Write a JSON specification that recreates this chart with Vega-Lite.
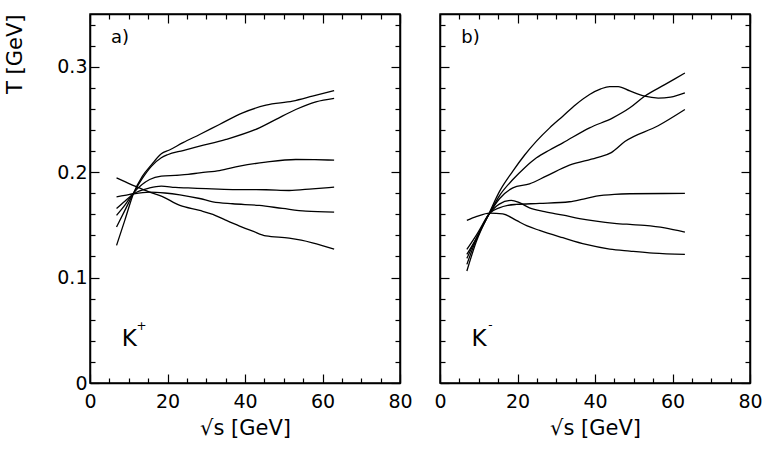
{
  "$schema": "https://vega.github.io/schema/vega-lite/v6.json",
  "padding": {"left": 4, "top": 12, "right": 0, "bottom": 0},
  "background": "white",
  "config": {
    "font": "DejaVu Sans",
    "view": {"stroke": "black", "strokeWidth": 1.5},
    "axis": {
      "grid": false,
      "domainColor": "black",
      "domainWidth": 1.5,
      "tickColor": "black",
      "tickWidth": 1.2,
      "labelColor": "black",
      "titleColor": "black",
      "labelFont": "DejaVu Sans",
      "titleFont": "DejaVu Sans",
      "labelFontSize": 19,
      "titleFontSize": 21,
      "titleFontWeight": "normal",
      "labelFlush": false,
      "labelOverlap": false
    }
  },
  "datasets": {
    "kplus": [
      {"curve": "c1", "x": 6.85, "y": 0.1946}, {"curve": "c1", "x": 9, "y": 0.191}, {"curve": "c1", "x": 11.6, "y": 0.1867}, {"curve": "c1", "x": 15.4, "y": 0.181}, {"curve": "c1", "x": 18.4, "y": 0.1773}, {"curve": "c1", "x": 23.2, "y": 0.1684}, {"curve": "c1", "x": 28.3, "y": 0.1637}, {"curve": "c1", "x": 31.7, "y": 0.16}, {"curve": "c1", "x": 35, "y": 0.1545}, {"curve": "c1", "x": 38.6, "y": 0.1488}, {"curve": "c1", "x": 42, "y": 0.144}, {"curve": "c1", "x": 45.4, "y": 0.1395}, {"curve": "c1", "x": 51.4, "y": 0.1375}, {"curve": "c1", "x": 54.5, "y": 0.1355}, {"curve": "c1", "x": 57.4, "y": 0.133}, {"curve": "c1", "x": 63, "y": 0.127},
      {"curve": "c2", "x": 6.85, "y": 0.1766}, {"curve": "c2", "x": 9, "y": 0.1779}, {"curve": "c2", "x": 11.3, "y": 0.1795}, {"curve": "c2", "x": 15.4, "y": 0.181}, {"curve": "c2", "x": 19.3, "y": 0.1802}, {"curve": "c2", "x": 23.2, "y": 0.1785}, {"curve": "c2", "x": 28.3, "y": 0.175}, {"curve": "c2", "x": 31.7, "y": 0.1719}, {"curve": "c2", "x": 36.8, "y": 0.17}, {"curve": "c2", "x": 43.7, "y": 0.1684}, {"curve": "c2", "x": 49.7, "y": 0.1656}, {"curve": "c2", "x": 55.7, "y": 0.163}, {"curve": "c2", "x": 63, "y": 0.162},
      {"curve": "c3", "x": 6.85, "y": 0.1656}, {"curve": "c3", "x": 9, "y": 0.1725}, {"curve": "c3", "x": 11.3, "y": 0.1795}, {"curve": "c3", "x": 15.4, "y": 0.185}, {"curve": "c3", "x": 18.4, "y": 0.1867}, {"curve": "c3", "x": 22, "y": 0.1855}, {"curve": "c3", "x": 25.3, "y": 0.185}, {"curve": "c3", "x": 30, "y": 0.1843}, {"curve": "c3", "x": 36.8, "y": 0.1835}, {"curve": "c3", "x": 45.4, "y": 0.1833}, {"curve": "c3", "x": 51.4, "y": 0.1826}, {"curve": "c3", "x": 57.4, "y": 0.1842}, {"curve": "c3", "x": 63, "y": 0.1858},
      {"curve": "c4", "x": 6.85, "y": 0.159}, {"curve": "c4", "x": 9, "y": 0.1687}, {"curve": "c4", "x": 11.3, "y": 0.1805}, {"curve": "c4", "x": 15.4, "y": 0.193}, {"curve": "c4", "x": 18.4, "y": 0.1962}, {"curve": "c4", "x": 22, "y": 0.197}, {"curve": "c4", "x": 25.3, "y": 0.1978}, {"curve": "c4", "x": 28.3, "y": 0.1994}, {"curve": "c4", "x": 33.4, "y": 0.2015}, {"curve": "c4", "x": 38.6, "y": 0.2057}, {"curve": "c4", "x": 45.4, "y": 0.2095}, {"curve": "c4", "x": 53.1, "y": 0.212}, {"curve": "c4", "x": 58, "y": 0.2118}, {"curve": "c4", "x": 63, "y": 0.2114},
      {"curve": "c5", "x": 6.85, "y": 0.148}, {"curve": "c5", "x": 9, "y": 0.1637}, {"curve": "c5", "x": 11.3, "y": 0.1805}, {"curve": "c5", "x": 13.5, "y": 0.194}, {"curve": "c5", "x": 15.9, "y": 0.2057}, {"curve": "c5", "x": 18.4, "y": 0.2136}, {"curve": "c5", "x": 20, "y": 0.2165}, {"curve": "c5", "x": 24, "y": 0.2205}, {"curve": "c5", "x": 28.3, "y": 0.2246}, {"curve": "c5", "x": 35.1, "y": 0.231}, {"curve": "c5", "x": 43.7, "y": 0.242}, {"curve": "c5", "x": 48, "y": 0.25}, {"curve": "c5", "x": 53.1, "y": 0.2594}, {"curve": "c5", "x": 58.3, "y": 0.2667}, {"curve": "c5", "x": 63, "y": 0.27},
      {"curve": "c6", "x": 6.85, "y": 0.1305}, {"curve": "c6", "x": 9, "y": 0.1545}, {"curve": "c6", "x": 11.3, "y": 0.1805}, {"curve": "c6", "x": 13.5, "y": 0.196}, {"curve": "c6", "x": 15.9, "y": 0.2072}, {"curve": "c6", "x": 18.4, "y": 0.2174}, {"curve": "c6", "x": 20.5, "y": 0.221}, {"curve": "c6", "x": 24, "y": 0.228}, {"curve": "c6", "x": 28.3, "y": 0.2357}, {"curve": "c6", "x": 33.4, "y": 0.2452}, {"curve": "c6", "x": 39.4, "y": 0.2562}, {"curve": "c6", "x": 45.4, "y": 0.2635}, {"curve": "c6", "x": 52.3, "y": 0.2673}, {"curve": "c6", "x": 57.4, "y": 0.272}, {"curve": "c6", "x": 63, "y": 0.2774}
    ],
    "kminus": [
      {"curve": "P", "x": 6.93, "y": 0.1062}, {"curve": "P", "x": 9.35, "y": 0.134}, {"curve": "P", "x": 12.8, "y": 0.162}, {"curve": "P", "x": 15.4, "y": 0.182}, {"curve": "P", "x": 18.8, "y": 0.201}, {"curve": "P", "x": 21.8, "y": 0.216}, {"curve": "P", "x": 24.9, "y": 0.2294}, {"curve": "P", "x": 28.3, "y": 0.242}, {"curve": "P", "x": 31.7, "y": 0.2531}, {"curve": "P", "x": 35, "y": 0.264}, {"curve": "P", "x": 38.6, "y": 0.2737}, {"curve": "P", "x": 41.5, "y": 0.279}, {"curve": "P", "x": 43.8, "y": 0.2812}, {"curve": "P", "x": 46, "y": 0.2812}, {"curve": "P", "x": 49, "y": 0.277}, {"curve": "P", "x": 52.8, "y": 0.272}, {"curve": "P", "x": 56.3, "y": 0.2703}, {"curve": "P", "x": 59.5, "y": 0.2712}, {"curve": "P", "x": 63.2, "y": 0.2752},
      {"curve": "Q", "x": 6.93, "y": 0.1125}, {"curve": "Q", "x": 9.35, "y": 0.136}, {"curve": "Q", "x": 12.8, "y": 0.161}, {"curve": "Q", "x": 15.4, "y": 0.178}, {"curve": "Q", "x": 18.8, "y": 0.193}, {"curve": "Q", "x": 21.8, "y": 0.204}, {"curve": "Q", "x": 24.9, "y": 0.2136}, {"curve": "Q", "x": 28.3, "y": 0.221}, {"curve": "Q", "x": 31.7, "y": 0.2278}, {"curve": "Q", "x": 38.6, "y": 0.242}, {"curve": "Q", "x": 44.6, "y": 0.2515}, {"curve": "Q", "x": 49, "y": 0.261}, {"curve": "Q", "x": 52.8, "y": 0.272}, {"curve": "Q", "x": 58, "y": 0.283}, {"curve": "Q", "x": 63.2, "y": 0.294},
      {"curve": "R", "x": 6.93, "y": 0.1182}, {"curve": "R", "x": 9.35, "y": 0.137}, {"curve": "R", "x": 12.8, "y": 0.161}, {"curve": "R", "x": 15.4, "y": 0.175}, {"curve": "R", "x": 18.8, "y": 0.1851}, {"curve": "R", "x": 23.1, "y": 0.1889}, {"curve": "R", "x": 27.4, "y": 0.1962}, {"curve": "R", "x": 33.4, "y": 0.2066}, {"curve": "R", "x": 40.3, "y": 0.2136}, {"curve": "R", "x": 44.2, "y": 0.2185}, {"curve": "R", "x": 47.7, "y": 0.229}, {"curve": "R", "x": 56.3, "y": 0.244}, {"curve": "R", "x": 63.2, "y": 0.2594},
      {"curve": "S", "x": 6.93, "y": 0.122}, {"curve": "S", "x": 9.35, "y": 0.137}, {"curve": "S", "x": 12.8, "y": 0.161}, {"curve": "S", "x": 15.3, "y": 0.1662}, {"curve": "S", "x": 17.5, "y": 0.1685}, {"curve": "S", "x": 19.7, "y": 0.1694}, {"curve": "S", "x": 25.7, "y": 0.1703}, {"curve": "S", "x": 33.4, "y": 0.1719}, {"curve": "S", "x": 37, "y": 0.1745}, {"curve": "S", "x": 40.3, "y": 0.1772}, {"curve": "S", "x": 45, "y": 0.179}, {"curve": "S", "x": 49, "y": 0.1795}, {"curve": "S", "x": 63.2, "y": 0.1798},
      {"curve": "T", "x": 6.93, "y": 0.1267}, {"curve": "T", "x": 9.35, "y": 0.14}, {"curve": "T", "x": 12.8, "y": 0.161}, {"curve": "T", "x": 15.3, "y": 0.1697}, {"curve": "T", "x": 18.4, "y": 0.1732}, {"curve": "T", "x": 20.5, "y": 0.171}, {"curve": "T", "x": 23.1, "y": 0.1662}, {"curve": "T", "x": 27, "y": 0.1625}, {"curve": "T", "x": 31.8, "y": 0.1592}, {"curve": "T", "x": 36, "y": 0.156}, {"curve": "T", "x": 40.3, "y": 0.1535}, {"curve": "T", "x": 45, "y": 0.1515}, {"curve": "T", "x": 49, "y": 0.1504}, {"curve": "T", "x": 52.8, "y": 0.1495}, {"curve": "T", "x": 58, "y": 0.1472}, {"curve": "T", "x": 63.2, "y": 0.1431},
      {"curve": "U", "x": 6.93, "y": 0.1542}, {"curve": "U", "x": 9.5, "y": 0.158}, {"curve": "U", "x": 12.8, "y": 0.1612}, {"curve": "U", "x": 16.2, "y": 0.1605}, {"curve": "U", "x": 19.7, "y": 0.1542}, {"curve": "U", "x": 22.5, "y": 0.149}, {"curve": "U", "x": 25.7, "y": 0.1447}, {"curve": "U", "x": 31.7, "y": 0.1378}, {"curve": "U", "x": 37.7, "y": 0.1314}, {"curve": "U", "x": 43.8, "y": 0.127}, {"curve": "U", "x": 49, "y": 0.1251}, {"curve": "U", "x": 55, "y": 0.1232}, {"curve": "U", "x": 63.2, "y": 0.122}
    ],
    "tagA": [{"x": 5.4, "y": 0.327, "t": "a)"}],
    "tagB": [{"x": 5.5, "y": 0.327, "t": "b)"}],
    "kA": [{"x": 8.2, "y": 0.035, "t": "K"}],
    "kB": [{"x": 8.1, "y": 0.035, "t": "K"}],
    "supA": [{"x": 13.3, "y": 0.054, "t": "+"}],
    "supB": [{"x": 13.0, "y": 0.055, "t": "-"}]
  },
  "spacing": 20,
  "hconcat": [
    {
      "width": 310,
      "height": 369,
      "layer": [
        {
          "data": {"name": "kplus"},
          "mark": {"type": "line", "color": "black", "strokeWidth": 1.3, "interpolate": "monotone"},
          "encoding": {
            "x": {"field": "x", "type": "quantitative", "scale": {"domain": [0, 80], "nice": false},
              "axis": {"orient": "bottom", "title": "√s [GeV]", "values": [0,5,10,15,20,25,30,35,40,45,50,55,60,65,70,75,80],
                "labelExpr": "datum.value % 20 === 0 ? datum.label : ''",
                "tickSize": {"condition": {"test": "datum.value % 20 === 0", "value": -9}, "value": -5},
                "labelPadding": 18, "titlePadding": 2}},
            "y": {"field": "y", "type": "quantitative", "scale": {"domain": [0, 0.35], "nice": false, "zero": false},
              "axis": {"orient": "left", "title": "T [GeV]", "titleAnchor": "end",
                "values": [0,0.02,0.04,0.06,0.08,0.1,0.12,0.14,0.16,0.18,0.2,0.22,0.24,0.26,0.28,0.3,0.32,0.34],
                "labelExpr": "abs(datum.value*10 - round(datum.value*10)) < 0.001 ? (datum.value < 0.001 ? '0' : format(datum.value, '.1f')) : ''",
                "tickSize": {"condition": {"test": "abs(datum.value*10 - round(datum.value*10)) < 0.001", "value": -9}, "value": -5},
                "labelPadding": 12, "titlePadding": 31}},
            "detail": {"field": "curve"}
          }
        },
        {
          "data": {"name": "kplus"},
          "mark": {"type": "line", "opacity": 0},
          "encoding": {
            "x": {"field": "x", "type": "quantitative",
              "axis": {"orient": "top", "title": null, "labels": false, "values": [0,5,10,15,20,25,30,35,40,45,50,55,60,65,70,75,80],
                "tickSize": {"condition": {"test": "datum.value % 20 === 0", "value": -9}, "value": -5}}},
            "y": {"field": "y", "type": "quantitative",
              "axis": {"orient": "right", "title": null, "labels": false,
                "values": [0,0.02,0.04,0.06,0.08,0.1,0.12,0.14,0.16,0.18,0.2,0.22,0.24,0.26,0.28,0.3,0.32,0.34],
                "tickSize": {"condition": {"test": "abs(datum.value*10 - round(datum.value*10)) < 0.001", "value": -9}, "value": -5}}},
            "detail": {"field": "curve"}
          }
        },
        {
          "data": {"name": "tagA"},
          "mark": {"type": "text", "align": "left", "baseline": "middle", "fontSize": 18, "color": "black"},
          "encoding": {"x": {"field": "x", "type": "quantitative", "axis": null}, "y": {"field": "y", "type": "quantitative", "axis": null}, "text": {"field": "t"}}
        },
        {
          "data": {"name": "kA"},
          "mark": {"type": "text", "align": "left", "baseline": "alphabetic", "fontSize": 23, "color": "black"},
          "encoding": {"x": {"field": "x", "type": "quantitative", "axis": null}, "y": {"field": "y", "type": "quantitative", "axis": null}, "text": {"field": "t"}}
        },
        {
          "data": {"name": "supA"},
          "mark": {"type": "text", "align": "center", "baseline": "middle", "fontSize": 12, "color": "black"},
          "encoding": {"x": {"field": "x", "type": "quantitative", "axis": null}, "y": {"field": "y", "type": "quantitative", "axis": null}, "text": {"field": "t"}}
        }
      ],
      "resolve": {"axis": {"x": "independent", "y": "independent"}}
    },
    {
      "width": 310,
      "height": 369,
      "layer": [
        {
          "data": {"name": "kminus"},
          "mark": {"type": "line", "color": "black", "strokeWidth": 1.3, "interpolate": "monotone"},
          "encoding": {
            "x": {"field": "x", "type": "quantitative", "scale": {"domain": [0, 80], "nice": false},
              "axis": {"orient": "bottom", "title": "√s [GeV]", "values": [0,5,10,15,20,25,30,35,40,45,50,55,60,65,70,75,80],
                "labelExpr": "datum.value % 20 === 0 ? datum.label : ''",
                "tickSize": {"condition": {"test": "datum.value % 20 === 0", "value": -9}, "value": -5},
                "labelPadding": 18, "titlePadding": 2}},
            "y": {"field": "y", "type": "quantitative", "scale": {"domain": [0, 0.35], "nice": false, "zero": false},
              "axis": {"orient": "left", "title": null, "labels": false,
                "values": [0,0.02,0.04,0.06,0.08,0.1,0.12,0.14,0.16,0.18,0.2,0.22,0.24,0.26,0.28,0.3,0.32,0.34],
                "tickSize": {"condition": {"test": "abs(datum.value*10 - round(datum.value*10)) < 0.001", "value": -9}, "value": -5}}},
            "detail": {"field": "curve"}
          }
        },
        {
          "data": {"name": "kminus"},
          "mark": {"type": "line", "opacity": 0},
          "encoding": {
            "x": {"field": "x", "type": "quantitative",
              "axis": {"orient": "top", "title": null, "labels": false, "values": [0,5,10,15,20,25,30,35,40,45,50,55,60,65,70,75,80],
                "tickSize": {"condition": {"test": "datum.value % 20 === 0", "value": -9}, "value": -5}}},
            "y": {"field": "y", "type": "quantitative",
              "axis": {"orient": "right", "title": null, "labels": false,
                "values": [0,0.02,0.04,0.06,0.08,0.1,0.12,0.14,0.16,0.18,0.2,0.22,0.24,0.26,0.28,0.3,0.32,0.34],
                "tickSize": {"condition": {"test": "abs(datum.value*10 - round(datum.value*10)) < 0.001", "value": -9}, "value": -5}}},
            "detail": {"field": "curve"}
          }
        },
        {
          "data": {"name": "tagB"},
          "mark": {"type": "text", "align": "left", "baseline": "middle", "fontSize": 18, "color": "black"},
          "encoding": {"x": {"field": "x", "type": "quantitative", "axis": null}, "y": {"field": "y", "type": "quantitative", "axis": null}, "text": {"field": "t"}}
        },
        {
          "data": {"name": "kB"},
          "mark": {"type": "text", "align": "left", "baseline": "alphabetic", "fontSize": 23, "color": "black"},
          "encoding": {"x": {"field": "x", "type": "quantitative", "axis": null}, "y": {"field": "y", "type": "quantitative", "axis": null}, "text": {"field": "t"}}
        },
        {
          "data": {"name": "supB"},
          "mark": {"type": "text", "align": "center", "baseline": "middle", "fontSize": 12, "color": "black"},
          "encoding": {"x": {"field": "x", "type": "quantitative", "axis": null}, "y": {"field": "y", "type": "quantitative", "axis": null}, "text": {"field": "t"}}
        }
      ],
      "resolve": {"axis": {"x": "independent", "y": "independent"}}
    }
  ]
}
